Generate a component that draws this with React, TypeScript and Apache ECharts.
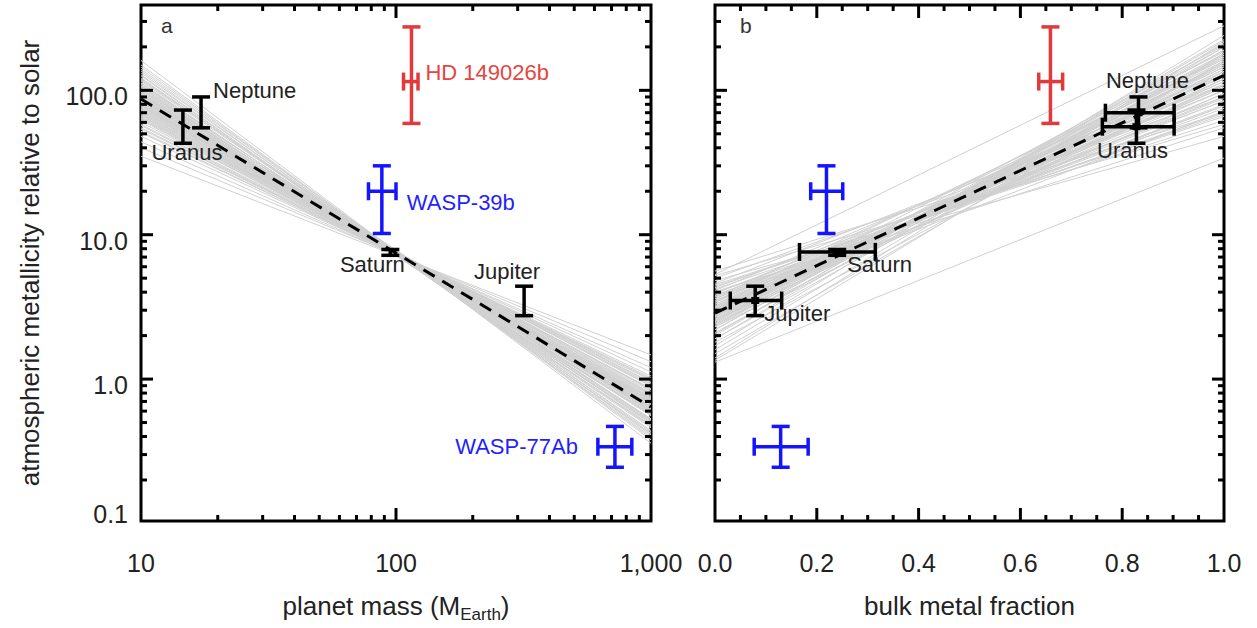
import React, { useEffect, useRef } from 'react';
import * as echarts from 'echarts';

// ---------------- data ----------------
const planetNames = ['Uranus', 'Neptune', 'Saturn', 'Jupiter', 'HD 149026b', 'WASP-39b', 'WASP-77Ab'];
const planetGroup = ['solar', 'solar', 'solar', 'solar', 'hd', 'wasp', 'wasp'];
const massEarth = [14.6, 17.2, 95, 318, 115, 88, 722];
const massLow = [NaN, NaN, NaN, NaN, 107, 78, 619];
const massHigh = [NaN, NaN, NaN, NaN, 122, 100, 841];
const metallicity = [56, 70, 7.6, 3.5, 115, 20, 0.34];
const metallicityLow = [43, 55, 7.2, 2.75, 59, 10.2, 0.245];
const metallicityHigh = [73, 90, 7.9, 4.4, 275, 30, 0.47];
const bulkZ = [0.828, 0.832, 0.24, 0.079, 0.659, 0.219, 0.129];
const bulkZLow = [0.761, 0.767, 0.166, 0.03, 0.636, 0.188, 0.077];
const bulkZHigh = [0.902, 0.902, 0.315, 0.131, 0.683, 0.251, 0.183];
const labelsA = ['Uranus', 'Neptune', 'Saturn', 'Jupiter', 'HD 149026b', 'WASP-39b', 'WASP-77Ab'];
const labelsB = ['Uranus', 'Neptune', 'Saturn', 'Jupiter', '', '', ''];

// best fits (dashed)
const fitMass = [10, 1000];
const fitMassMetal = [87, 0.64];
const fitZ = [0, 1];
const fitZMetal = [2.86, 127];

// posterior sample fits (grey), value at left and right edges
const sampleMassLeft = [161, 150, 140, 132, 126, 120, 116, 112, 108, 105, 102, 99, 96, 94, 92, 90, 88, 86, 84, 82, 80, 78, 76, 74, 72, 70, 68, 66, 64, 62, 60, 57, 54, 51, 48, 44, 40, 35, 118, 85, 65, 100,
  110, 104, 97, 93, 89, 87, 83, 81, 79, 77, 75, 73, 71, 69, 67, 91, 85, 95, 101, 107, 113, 122, 128, 136, 145, 58, 55, 52, 63, 79];
const sampleMassRight = [0.36, 0.38, 0.41, 0.43, 0.42, 0.47, 0.49, 0.47, 0.53, 0.5, 0.56, 0.53, 0.59, 0.56, 0.62, 0.58, 0.65, 0.62, 0.68, 0.64, 0.71, 0.68, 0.75, 0.7, 0.79, 0.74, 0.84, 0.78, 0.89, 0.85, 0.95, 0.92, 1.0, 1.05, 1.12, 1.2, 1.32, 1.47, 0.52, 0.7, 0.9, 0.6,
  0.5, 0.52, 0.57, 0.6, 0.61, 0.63, 0.66, 0.67, 0.69, 0.71, 0.73, 0.75, 0.77, 0.8, 0.82, 0.6, 0.64, 0.56, 0.51, 0.48, 0.46, 0.44, 0.42, 0.4, 0.39, 0.94, 0.98, 1.02, 0.86, 0.72];
const sampleZLeft = [5.3, 5.6, 5.2, 5.0, 4.8, 4.6, 4.4, 4.3, 4.1, 4.0, 3.9, 3.8, 3.7, 3.6, 3.5, 3.4, 3.3, 3.2, 3.1, 3.0, 2.95, 2.9, 2.8, 2.75, 2.7, 2.6, 2.55, 2.5, 2.4, 2.35, 2.3, 2.2, 2.1, 2.0, 1.9, 1.8, 1.7, 1.6, 1.5, 1.4, 1.31, 1.35,
  3.0, 2.9, 2.8, 2.7, 3.2, 3.4, 2.6, 2.5, 3.6, 2.4, 3.1, 2.85, 2.65, 3.3, 2.95, 2.75, 3.5, 2.3, 4.0, 2.2, 3.8, 2.05, 4.5, 3.05, 2.55, 2.45, 3.15, 3.7, 1.9, 4.2];
const sampleZRight = [280, 70, 58, 90, 48, 110, 66, 84, 125, 55, 100, 78, 145, 115, 88, 165, 105, 135, 72, 120, 185, 150, 95, 130, 175, 155, 110, 205, 140, 170, 120, 190, 155, 225, 175, 135, 240, 200, 160, 215, 34, 180,
  115, 130, 140, 150, 100, 90, 160, 170, 80, 180, 110, 125, 145, 95, 120, 135, 85, 190, 70, 200, 75, 210, 62, 105, 155, 165, 108, 78, 220, 68];

// ticks
const metalMajorTicks = [1, 10, 100];
const metalMinorTicks = [0.2, 0.3, 0.4, 0.5, 0.6, 0.7, 0.8, 0.9, 2, 3, 4, 5, 6, 7, 8, 9, 20, 30, 40, 50, 60, 70, 80, 90, 200, 300];
const massMajorTicks = [100];
const massMinorTicks = [20, 30, 40, 50, 60, 70, 80, 90, 200, 300, 400, 500, 600, 700, 800, 900];
const zMajorTicks = [0.2, 0.4, 0.6, 0.8];
const zMinorTicks = [0.05, 0.1, 0.15, 0.25, 0.3, 0.35, 0.45, 0.5, 0.55, 0.65, 0.7, 0.75, 0.85, 0.9, 0.95];

// ---------------- styles ----------------
const FONT = '"Liberation Sans", Arial, Helvetica, sans-serif';
const LINE_COLOR: Record<string, string> = { solar: '#000000', hd: '#e23a3a', wasp: '#1414ff' };
const TEXT_COLOR: Record<string, string> = { solar: '#222222', hd: '#e5453f', wasp: '#1f1fff' };
const labelPosA: Record<string, [number, number, string]> = {
  Uranus: [4, 26, 'center'],
  Neptune: [12, -22, 'left'],
  Saturn: [-18, 13, 'center'],
  Jupiter: [-17, -29, 'center'],
  'HD 149026b': [14, -9, 'left'],
  'WASP-39b': [25, 11, 'left'],
  'WASP-77Ab': [-37, 0, 'right'],
};
const labelPosB: Record<string, [number, number, string]> = {
  Uranus: [-4, 24, 'center'],
  Neptune: [9, -32, 'center'],
  Saturn: [10, 13, 'left'],
  Jupiter: [9, 13, 'left'],
};

function seg(x1: number, y1: number, x2: number, y2: number, stroke: string, w: number) {
  return { type: 'line', shape: { x1, y1, x2, y2 }, style: { stroke, lineWidth: w } };
}

function errorRenderer(xs: number[], xLo: number[], xHi: number[], labels: string[], pos: Record<string, any>, marker: boolean) {
  return (params: any, api: any) => {
    const i = params.dataIndex;
    const g = planetGroup[i];
    const color = LINE_COLOR[g];
    const c = api.coord([xs[i], metallicity[i]]);
    const lo = api.coord([xs[i], metallicityLow[i]]);
    const hi = api.coord([xs[i], metallicityHigh[i]]);
    const cap = 9;
    const lw = 3.5;
    const ch: any[] = [
      seg(c[0], lo[1], c[0], hi[1], color, lw),
      seg(c[0] - cap, lo[1], c[0] + cap, lo[1], color, lw),
      seg(c[0] - cap, hi[1], c[0] + cap, hi[1], color, lw),
    ];
    if (!isNaN(xLo[i])) {
      const l = api.coord([xLo[i], metallicity[i]]);
      const h = api.coord([xHi[i], metallicity[i]]);
      ch.push(seg(l[0], c[1], h[0], c[1], color, lw));
      ch.push(seg(l[0], c[1] - cap, l[0], c[1] + cap, color, lw));
      ch.push(seg(h[0], c[1] - cap, h[0], c[1] + cap, color, lw));
    }
    if (marker && g === 'solar') {
      ch.push({ type: 'rect', shape: { x: c[0] - 4, y: c[1] - 3.5, width: 8, height: 7 }, style: { fill: '#000' } });
    }
    const txt = labels[i];
    if (txt) {
      const p = pos[txt];
      ch.push({
        type: 'text',
        x: c[0] + p[0],
        y: c[1] + p[1],
        style: { text: txt, fill: TEXT_COLOR[g], fontSize: 22, fontFamily: FONT, align: p[2], verticalAlign: 'middle' },
      });
    }
    return { type: 'group', children: ch };
  };
}

function yTickRenderer(xRef: number) {
  return (params: any, api: any) => {
    const cs = params.coordSys;
    const y = api.coord([xRef, api.value(1)])[1];
    const len = api.value(2);
    return {
      type: 'group',
      children: [
        seg(cs.x, y, cs.x + len, y, '#000', 3),
        seg(cs.x + cs.width - len, y, cs.x + cs.width, y, '#000', 3),
      ],
    };
  };
}

function xTickRenderer(yRef: number) {
  return (params: any, api: any) => {
    const cs = params.coordSys;
    const x = api.coord([api.value(0), yRef])[0];
    const len = api.value(2);
    return {
      type: 'group',
      children: [
        seg(x, cs.y + cs.height, x, cs.y + cs.height - len, '#000', 3),
        seg(x, cs.y, x, cs.y + len, '#000', 3),
      ],
    };
  };
}

function greyRenderer() {
  return (params: any, api: any) => {
    const a = api.coord([api.value(0), api.value(1)]);
    const b = api.coord([api.value(2), api.value(3)]);
    return seg(a[0], a[1], b[0], b[1], '#d0d0d0', 1);
  };
}

function buildOption() {
  const yLabelFmt = (v: number) => {
    if (v < 0.15) return '{lo|0.1}';
    const r = Math.round(v);
    if (r === 1 || r === 10 || r === 100) {
      if (Math.abs(v - r) < 1e-6) return '{n|' + r.toFixed(1) + '}';
    }
    return '';
  };
  const tickText = { fontSize: 25, fontFamily: FONT, color: '#222' };
  const yAxisBase = {
    type: 'log',
    logBase: 10,
    min: 0.104,
    max: 390,
    axisLine: { show: false },
    axisTick: { show: false },
    minorTick: { show: false },
    splitLine: { show: false },
  };
  const yTickData = [
    ...metalMajorTicks.map((v) => [0, v, 12]),
    ...metalMinorTicks.map((v) => [0, v, 6]),
  ];
  const yTickDataA = yTickData.map((d) => [100, d[1], d[2]]);
  const yTickDataB = yTickData.map((d) => [0.5, d[1], d[2]]);
  const xTickDataA = [
    ...massMajorTicks.map((v) => [v, 1, 13]),
    ...massMinorTicks.map((v) => [v, 1, 6]),
  ];
  const xTickDataB = [
    ...zMajorTicks.map((v) => [v, 1, 13]),
    ...zMinorTicks.map((v) => [v, 1, 6]),
  ];

  return {
    animation: false,
    backgroundColor: '#ffffff',
    grid: [
      { left: 141, top: 5, width: 510, height: 516, show: true, borderColor: '#000', borderWidth: 3, outerBoundsMode: 'none' },
      { left: 715, top: 5, width: 509, height: 516, show: true, borderColor: '#000', borderWidth: 3, outerBoundsMode: 'none' },
    ],
    xAxis: [
      {
        type: 'log',
        logBase: 10,
        gridIndex: 0,
        min: 10,
        max: 1000,
        axisLine: { show: false },
        axisTick: { show: false },
        minorTick: { show: false },
        splitLine: { show: false },
        axisLabel: {
          ...tickText,
          margin: 29,
          formatter: (v: number) => {
            const r = Math.round(v);
            return r === 1000 ? '1,000' : String(r);
          },
        },
        name: 'planet mass (M{sub|Earth})',
        nameLocation: 'middle',
        nameGap: 67,
        nameTextStyle: {
          fontSize: 26,
          fontFamily: FONT,
          color: '#222',
          rich: { sub: { fontSize: 17, fontFamily: FONT, color: '#222', padding: [18, 0, 0, 0] } },
        },
      },
      {
        type: 'value',
        gridIndex: 1,
        min: 0,
        max: 1,
        interval: 0.2,
        axisLine: { show: false },
        axisTick: { show: false },
        splitLine: { show: false },
        axisLabel: { ...tickText, margin: 29, formatter: (v: number) => v.toFixed(1) },
        name: 'bulk metal fraction',
        nameLocation: 'middle',
        nameGap: 72,
        nameTextStyle: { fontSize: 26, fontFamily: FONT, color: '#222' },
      },
    ],
    yAxis: [
      {
        ...yAxisBase,
        gridIndex: 0,
        axisLabel: {
          ...tickText,
          margin: 13,
          formatter: yLabelFmt,
          rich: {
            n: { ...tickText, padding: [12, 0, 0, 0] },
            lo: { ...tickText, padding: [0, 0, 14, 0] },
          },
        },
        name: 'atmospheric metallicity relative to solar',
        nameLocation: 'middle',
        nameGap: 98,
        nameTextStyle: { fontSize: 26, fontFamily: FONT, color: '#222' },
      },
      { ...yAxisBase, gridIndex: 1, axisLabel: { show: false } },
    ],
    graphic: [
      { type: 'text', left: 161, top: 15, style: { text: 'a', fontSize: 21, fontFamily: FONT, fill: '#333' } },
      { type: 'text', left: 740, top: 15, style: { text: 'b', fontSize: 21, fontFamily: FONT, fill: '#333' } },
    ],
    series: [
      {
        type: 'custom',
        xAxisIndex: 0,
        yAxisIndex: 0,
        silent: true,
        renderItem: greyRenderer(),
        data: sampleMassLeft.map((v, i) => [fitMass[0], v, fitMass[1], sampleMassRight[i]]),
        z: 1,
      },
      {
        type: 'custom',
        xAxisIndex: 1,
        yAxisIndex: 1,
        silent: true,
        renderItem: greyRenderer(),
        data: sampleZLeft.map((v, i) => [fitZ[0], v, fitZ[1], sampleZRight[i]]),
        z: 1,
      },
      {
        type: 'line',
        xAxisIndex: 0,
        yAxisIndex: 0,
        symbol: 'none',
        silent: true,
        data: fitMass.map((m, i) => [m, fitMassMetal[i]]),
        lineStyle: { color: '#000', width: 3, type: [13, 9] },
        z: 2,
      },
      {
        type: 'line',
        xAxisIndex: 1,
        yAxisIndex: 1,
        symbol: 'none',
        silent: true,
        data: fitZ.map((m, i) => [m, fitZMetal[i]]),
        lineStyle: { color: '#000', width: 3, type: [13, 9] },
        z: 2,
      },
      {
        type: 'custom',
        xAxisIndex: 0,
        yAxisIndex: 0,
        silent: true,
        renderItem: errorRenderer(massEarth, massLow, massHigh, labelsA, labelPosA, false),
        data: planetNames.map((_, i) => [massEarth[i], metallicity[i]]),
        z: 3,
      },
      {
        type: 'custom',
        xAxisIndex: 1,
        yAxisIndex: 1,
        silent: true,
        renderItem: errorRenderer(bulkZ, bulkZLow, bulkZHigh, labelsB, labelPosB, true),
        data: planetNames.map((_, i) => [bulkZ[i], metallicity[i]]),
        z: 3,
      },
      { type: 'custom', xAxisIndex: 0, yAxisIndex: 0, silent: true, renderItem: yTickRenderer(100), data: yTickDataA, z: 4 },
      { type: 'custom', xAxisIndex: 1, yAxisIndex: 1, silent: true, renderItem: yTickRenderer(0.5), data: yTickDataB, z: 4 },
      { type: 'custom', xAxisIndex: 0, yAxisIndex: 0, silent: true, renderItem: xTickRenderer(1), data: xTickDataA, z: 4 },
      { type: 'custom', xAxisIndex: 1, yAxisIndex: 1, silent: true, renderItem: xTickRenderer(1), data: xTickDataB, z: 4 },
    ],
  };
}

export default function App() {
  const ref = useRef<HTMLDivElement>(null);
  useEffect(() => {
    if (!ref.current) return;
    const chart = echarts.init(ref.current, undefined, { renderer: 'svg' });
    chart.setOption(buildOption() as any);
    return () => chart.dispose();
  }, []);
  return (
    <div
      ref={ref}
      style={{ position: 'fixed', left: 0, top: 0, width: 1257, height: 628, background: '#fff' }}
    />
  );
}
